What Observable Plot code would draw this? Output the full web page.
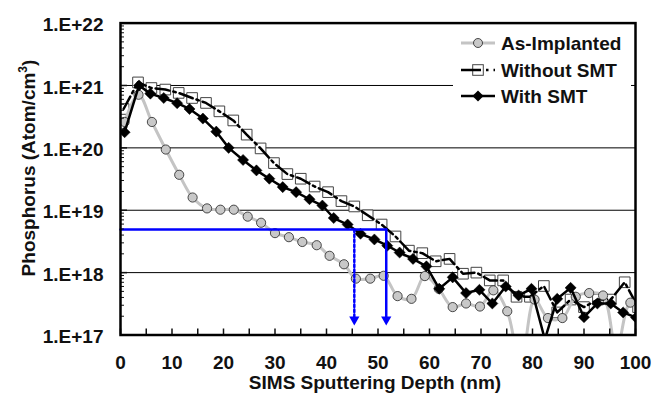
<!DOCTYPE html>
<html><head><meta charset="utf-8">
<script src="https://cdn.jsdelivr.net/npm/d3@7"></script>
<script src="https://cdn.jsdelivr.net/npm/@observablehq/plot@0.6"></script>
<style>
body{margin:0;background:#fff}
#chart{width:653px;height:393px}
</style>
</head><body><div id="chart"></div>
<script>
// ---- data ----
const seriesNames = ["As-Implanted", "Without SMT", "With SMT"];

const asDepth = [0.8,3.5,6.1,8.8,11.4,14.0,16.8,19.4,22.0,24.7,27.3,30.0,32.7,35.3,38.1,40.6,43.4,45.7,48.5,51.1,53.8,56.5,59.1,61.8,64.5,67.1,69.8,72.4,75.1,77.7,80.4,83.0,85.8,88.4,91.0,93.7,96.3,99.0,101.6];
const asConc  = [2.6e20,7.1e20,2.6e20,9.4e19,3.7e19,1.6e19,1.07e19,1.02e19,1.02e19,7.9e18,6.3e18,4.3e18,3.7e18,3.1e18,2.75e18,1.86e18,1.36e18,8.0e17,8.0e17,8.9e17,4.2e17,3.8e17,8.8e17,5.5e17,2.8e17,3.2e17,2.86e17,5.2e17,2.4e17,3.2e16,3.7e17,1.87e17,1.87e17,4.1e17,4.7e17,4.3e17,5.8e16,3.3e17,2.7e17];

const woDepth = [0.6,3.4,6.0,8.7,11.3,13.9,16.6,19.2,21.9,24.5,27.2,29.8,32.4,35.0,37.7,40.3,42.9,45.4,48.0,50.7,53.4,56.0,58.6,61.2,63.9,66.5,69.1,71.7,74.3,76.9,79.5,82.2,84.8,87.4,90.0,92.7,95.2,97.9,100.5];
const woConc  = [4.2e20,1.12e21,9.1e20,8.6e20,7.6e20,6.3e20,5.25e20,3.85e20,2.75e20,1.63e20,9.8e19,5.7e19,3.8e19,3.2e19,2.4e19,1.95e19,1.4e19,1.15e19,8.3e18,5.9e18,3.8e18,2.25e18,2.05e18,1.52e18,1.66e18,9.6e17,1.0e18,7.5e17,7.5e17,4.1e17,4.1e17,6.1e17,2.3e17,3.7e17,2.8e17,3.7e17,3.7e17,7.0e17,2.8e17];

const wDepth = [0.8,3.6,5.8,8.4,11.0,13.4,16.0,18.6,21.0,23.8,26.4,28.9,31.5,34.1,36.7,39.2,41.4,44.1,46.6,49.3,51.8,54.2,56.8,59.4,61.9,64.5,67.1,69.7,72.2,74.8,77.3,79.8,82.4,84.8,87.4,90.0,92.6,95.2,97.6,100.1,102.7];
const wConc  = [1.78e20,1.0e21,7.4e20,6.3e20,5.2e20,4.2e20,2.95e20,1.82e20,1.0e20,6.4e19,4.35e19,3.2e19,2.35e19,1.95e19,1.5e19,1.19e19,7.5e18,5.9e18,4.2e18,3.4e18,2.7e18,2.1e18,1.66e18,1.26e18,5.5e17,8.4e17,4.7e17,5.3e17,3.2e17,6.0e17,4.3e17,5.5e17,0.85e17,3.8e17,5.7e17,1.93e17,3.2e17,3.2e17,2.3e17,1.9e17,2.6e17];

// junction-depth annotation (blue)
const junctionConc = 4.9e18;
const junctionDepthAs = 45.4;   // dotted arrow
const junctionDepthW  = 51.6;   // solid arrow
const arrowHeadConc = 1.77e17;

// axis ticks
const xTickLabels = [0,10,20,30,40,50,60,70,80,90,100];
const xTickMarks = [0,5,10,15,20,25,30,35,40,45,50,55,60,65,70,75,80,85,90,95,100];
const yDecades = [1e17,1e18,1e19,1e20,1e21,1e22];
const yGrid = [1e18,1e19,1e20,1e21];
const yMinor = yDecades.slice(0,-1).flatMap(d => [2,3,4,5,6,7,8,9].map(m => m*d));

// ---- build ----
const rows = (xs, ys) => xs.map((x, i) => ({x, y: ys[i]}));
const asData = rows(asDepth, asConc);
const woData = rows(woDepth, woConc);
const wData  = rows(wDepth, wConc);
const hLine = [{x: 0, y: junctionConc}, {x: junctionDepthW, y: junctionConc}];
const vSolid = [{x: junctionDepthW, y: junctionConc}, {x: junctionDepthW, y: arrowHeadConc}];
const vDot = [{x: junctionDepthAs, y: junctionConc}, {x: junctionDepthAs, y: arrowHeadConc}];
const heads = [{x: junctionDepthAs, y: arrowHeadConc}, {x: junctionDepthW, y: arrowHeadConc}];

const FONT = "'Liberation Sans', Arial, Helvetica, sans-serif";
const FS = 19;
const BLUE = "#0000ff";
const GRAY = "#c4c4c4";

const plot = Plot.plot({
  width: 653, height: 393,
  marginLeft: 120, marginRight: 18, marginTop: 22.6, marginBottom: 58.5,
  style: {fontFamily: FONT, fontSize: FS + "px", fontWeight: "bold", background: "white", color: "#111"},
  x: {domain: [0, 100]},
  y: {type: "log", domain: [1e17, 1e22]},
  marks: [
    Plot.ruleY(yGrid, {stroke: "#000", strokeWidth: 1}),
    // Without SMT
    Plot.dot(woData, {x: "x", y: "y", symbol: "square", r: 6, fill: "white", stroke: "#444", strokeWidth: 1, clip: true}),
    Plot.line(woData, {x: "x", y: "y", stroke: "#000", strokeWidth: 2.5, strokeDasharray: "14,4,2.5,4", clip: true}),
    // As-Implanted
    Plot.line(asData, {x: "x", y: "y", stroke: GRAY, strokeWidth: 3, curve: "catmull-rom", clip: true}),
    Plot.dot(asData, {x: "x", y: "y", r: 4.6, fill: "#c8c8c8", stroke: "#222", strokeWidth: 0.8, clip: true}),
    // With SMT
    Plot.line(wData, {x: "x", y: "y", stroke: "#000", strokeWidth: 2.5, clip: true}),
    Plot.dot(wData, {x: "x", y: "y", symbol: "diamond2", r: 5, fill: "#000", stroke: "#000", strokeWidth: 0.5, clip: true}),
    // blue annotation
    Plot.line(hLine, {x: "x", y: "y", stroke: BLUE, strokeWidth: 2.5}),
    Plot.line(vSolid, {x: "x", y: "y", stroke: BLUE, strokeWidth: 2.5}),
    Plot.line(vDot, {x: "x", y: "y", stroke: BLUE, strokeWidth: 2.5, strokeDasharray: "2.5,2.5"}),
    Plot.dot(heads, {x: "x", y: "y", symbol: "triangle", rotate: 180, r: 3.8, fill: BLUE, stroke: "none"}),
    // axes
    Plot.axisX({ticks: xTickLabels, tickSize: 0, tickPadding: 20, label: null}),
    Plot.axisX({ticks: xTickMarks, tickSize: -6, strokeWidth: 1.5, tickFormat: () => "", label: null}),
    Plot.axisY({ticks: yDecades, tickSize: 0, tickPadding: 17, dy: 2, label: null,
                tickFormat: d => "1.E+" + Math.round(Math.log10(d))}),
    Plot.axisY({ticks: yDecades, tickSize: -7, strokeWidth: 1.5, tickFormat: () => "", label: null}),
    Plot.axisY({ticks: yMinor, tickSize: -4, strokeWidth: 1, tickFormat: () => "", label: null}),
    Plot.frame({stroke: "#000", strokeWidth: 2.5})
  ]
});
document.getElementById("chart").appendChild(plot);

// ---- titles and legend ----
const svg = d3.select(plot);
svg.append("text")
  .attr("x", 375).attr("y", 389)
  .attr("text-anchor", "middle")
  .attr("font-family", FONT).attr("font-weight", "bold").attr("font-size", FS)
  .attr("fill", "#111")
  .text("SIMS Sputtering Depth (nm)");

const yt = svg.append("text")
  .attr("transform", "translate(35,168) rotate(-90)")
  .attr("text-anchor", "middle")
  .attr("font-family", FONT).attr("font-weight", "bold").attr("font-size", FS)
  .attr("fill", "#111");
yt.append("tspan").text("Phosphorus (Atom/cm");
yt.append("tspan").attr("font-size", 12).attr("dy", -8).text("3");
yt.append("tspan").attr("dy", 8).text(")");

const lg = svg.append("g").attr("text-anchor", "start");
lg.append("rect").attr("x", 453).attr("y", 30).attr("width", 178).attr("height", 76).attr("fill", "white");
const rowsY = [43, 70, 96];
const lx1 = 461, lx2 = 495, mx = 478, tx = 501;
// As-Implanted
lg.append("line").attr("x1", lx1).attr("x2", lx2).attr("y1", rowsY[0]).attr("y2", rowsY[0]).attr("stroke", GRAY).attr("stroke-width", 3);
lg.append("circle").attr("cx", mx).attr("cy", rowsY[0]).attr("r", 4.5).attr("fill", "#c8c8c8").attr("stroke", "#222").attr("stroke-width", 0.8);
// Without SMT
lg.append("rect").attr("x", mx - 5.3).attr("y", rowsY[1] - 5.3).attr("width", 10.6).attr("height", 10.6).attr("fill", "white").attr("stroke", "#444");
lg.append("line").attr("x1", lx1).attr("x2", lx2).attr("y1", rowsY[1]).attr("y2", rowsY[1]).attr("stroke", "#000").attr("stroke-width", 2.5).attr("stroke-dasharray", "20,5,2.5,5");
// With SMT
lg.append("line").attr("x1", lx1).attr("x2", lx2).attr("y1", rowsY[2]).attr("y2", rowsY[2]).attr("stroke", "#000").attr("stroke-width", 2.5);
lg.append("path").attr("d", d3.symbol(d3.symbolDiamond2, Math.PI * 25)()).attr("transform", `translate(${mx},${rowsY[2]})`).attr("fill", "#000");
seriesNames.forEach((name, i) => {
  lg.append("text").attr("x", tx).attr("y", rowsY[i] + 6.8)
    .attr("text-anchor", "start")
    .attr("font-family", FONT).attr("font-weight", "bold").attr("font-size", FS)
    .attr("fill", "#111").text(name);
});
</script>
</body></html>
